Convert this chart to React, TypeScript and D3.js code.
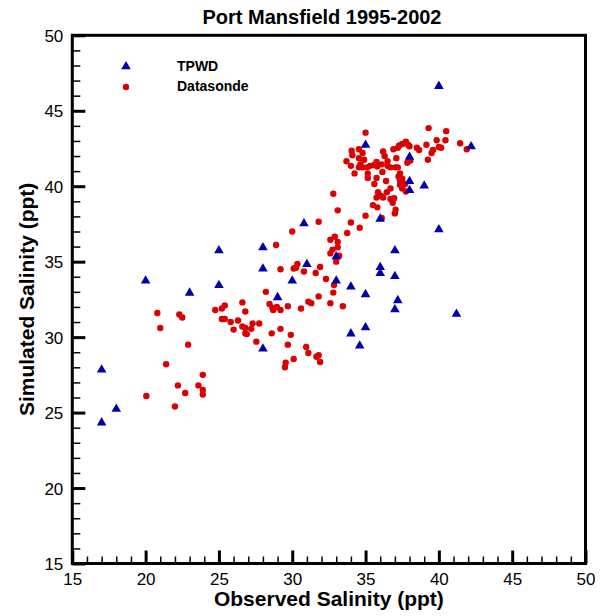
import * as d3 from 'd3'
import {useRef, useEffect} from 'react'

// TPWD observed / simulated pairs (ppt)
const tpwdObserved = [17, 17, 18, 20, 23, 25, 25, 28, 28, 28, 29, 30, 30.8, 31, 33, 33, 34, 34, 34.6, 35, 35, 35, 36, 36, 36, 37, 37, 37.2, 37, 38, 38, 38, 39, 40, 40, 41.2, 42.2]
const tpwdSimulated = [27.9, 24.4, 25.3, 33.8, 33.0, 35.8, 33.5, 36.0, 34.6, 29.3, 32.7, 33.8, 37.6, 34.9, 35.4, 33.8, 33.4, 30.3, 29.5, 32.9, 30.7, 42.8, 37.9, 34.7, 34.3, 35.8, 34.1, 32.5, 31.9, 42.0, 40.4, 39.8, 40.1, 46.7, 37.2, 31.6, 42.7]

// Datasonde observed / simulated pairs (ppt)
const sondeObserved = [
  20.8, 22.3, 22.5, 21.0, 24.75, 25.2, 25.4, 26.6, 26.8, 25.2, 25.4, 25.8, 26.3, 26.0, 26.6, 26.8, 26.8, 26.9, 22.9, 21.4,
  23.9, 22.2, 23.6, 23.9, 22.7, 23.9, 20.05, 22.0,
  32.8, 33.1, 31.8, 30.0, 34.0, 34.6, 35.0, 33.75, 32.6, 32.9, 33.1, 33.1, 32.75, 32.6, 33.2, 33.0, 28.9, 29.2, 30.1, 30.25,
  30.35, 30.8, 31.9, 31.6, 32.3, 32.85, 32.8, 31.8, 32.6, 33.45, 31.1, 31.3, 30.6, 29.7, 28.2, 28.45, 28.7, 28.65, 28.95, 29.2,
  27.3, 27.75, 27.2, 28.6, 29.2, 29.9, 27.55, 29.7, 30.1, 30.95, 31.1, 31.65, 31.8, 31.9, 29.55, 29.5,
  35.0, 39.3, 40.5, 40.45, 39.85, 41.45, 41.9, 40.0, 40.15, 39.6, 39.5, 39.15, 38.5, 38.65, 39.25, 37.9, 38.0, 37.75, 37.5, 37.3,
  37.2, 36.9, 36.2, 36.3, 34.05, 34.1, 34.55, 34.8, 33.7, 34.0, 34.55, 34.9, 34.65, 34.8, 34.55, 35.1, 35.3, 35.55, 35.75, 35.8,
  36.1, 36.5, 36.5, 36.7, 37.1, 37.05, 37.2, 34.25, 35.15, 35.15, 36.15, 35.75, 36.4, 35.6, 36.7, 37.35, 37.25, 37.35, 37.5, 37.5,
  37.35, 37.7, 37.5, 37.85, 38.05, 35.85, 36.05, 36.2, 35.75, 36.45, 36.7, 36.95, 36.85, 37.75, 37.05, 37.0, 35.5, 35.8, 36.1
]
const sondeSimulated = [
  31.6, 31.5, 31.3, 30.6, 31.8, 31.9, 32.1, 32.3, 31.7, 31.2, 31.2, 31.0, 31.1, 30.5, 30.7, 30.6, 30.25, 30.2, 29.5, 28.2,
  27.5, 26.8, 26.8, 26.5, 26.3, 26.2, 26.1, 25.4,
  39.5, 38.4, 37.65, 37.0, 37.6, 37.25, 38.05, 36.9, 36.45, 36.65, 36.3, 35.95, 35.8, 35.55, 35.4, 35.0, 36.1, 34.5, 34.55, 34.6,
  34.85, 34.35, 34.65, 34.25, 33.85, 33.45, 32.95, 32.7, 32.25, 32.05, 32.35, 32.25, 31.9, 32.05, 33.0, 32.2, 31.8, 31.95, 32.0, 31.8,
  30.9, 30.9, 30.55, 30.25, 30.55, 30.15, 29.7, 29.5, 28.55, 29.35, 28.95, 28.7, 28.8, 28.35, 28.3, 28.0,
  43.55, 43.85, 43.65, 43.05, 43.05, 42.85, 42.45, 42.6, 42.55, 42.4, 42.2, 42.75, 42.55, 42.4, 41.75, 42.75, 42.65, 42.95, 42.8, 42.7,
  42.55, 42.45, 42.3, 42.0, 42.35, 42.05, 42.45, 42.2, 41.65, 41.35, 41.85, 41.75, 41.45, 41.25, 41.25, 41.25, 41.35, 41.4, 41.6, 41.3,
  41.45, 41.65, 41.35, 41.25, 41.85, 41.25, 41.25, 40.85, 40.85, 40.55, 40.95, 40.55, 40.35, 40.15, 39.85, 40.85, 40.65, 40.4, 40.5, 40.2,
  40.1, 40.15, 39.85, 41.55, 41.7, 39.6, 39.35, 39.25, 39.25, 39.6, 39.15, 39.2, 38.9, 39.65, 38.45, 38.2, 38.75, 38.6, 37.9
]

const majorTicks = [15, 20, 25, 30, 35, 40, 45, 50]
const minorTicks = d3.range(15, 51, 1)

const title = 'Port Mansfield 1995-2002'
const xTitle = 'Observed Salinity (ppt)'
const yTitle = 'Simulated Salinity (ppt)'
const seriesNames = ['TPWD', 'Datasonde']

const blue = '#0000aa'
const red = '#dd0000'
const font = 'Liberation Sans, Arial, Helvetica, sans-serif'

export default function App() {
  const svgRef = useRef(null)
  const svgWidth = 600
  const svgHeight = 616
  const left = 72.3, right = 585.5, top = 35.3, bottom = 563.5

  useEffect(() => {
    const SVG = d3.select(svgRef.current)
    SVG.selectAll('*').remove()

    const xScale = d3.scaleLinear().domain([15, 50]).range([left, right])
    const yScale = d3.scaleLinear().domain([15, 50]).range([bottom, top])

    // minor ticks
    SVG.append('g').attr('transform', `translate(0,${bottom})`)
      .call(d3.axisBottom(xScale).tickValues(minorTicks).tickSize(-7).tickFormat(() => ''))
      .call(g => g.select('.domain').remove())
      .call(g => g.selectAll('line').attr('stroke-width', 1.5))
    SVG.append('g').attr('transform', `translate(${left},0)`)
      .call(d3.axisLeft(yScale).tickValues(minorTicks).tickSize(-8).tickFormat(() => ''))
      .call(g => g.select('.domain').remove())
      .call(g => g.selectAll('line').attr('stroke-width', 1.5))

    // major ticks + labels
    SVG.append('g').attr('transform', `translate(0,${bottom})`)
      .call(d3.axisBottom(xScale).tickValues(majorTicks).tickSize(-13).tickPadding(0).tickFormat(d3.format('d')))
      .call(g => g.select('.domain').remove())
      .call(g => g.selectAll('line').attr('stroke-width', 3))
      .call(g => g.selectAll('text').attr('y', 21).attr('dy', 0).attr('font-size', 17).attr('font-family', font))
    SVG.append('g').attr('transform', `translate(${left},0)`)
      .call(d3.axisLeft(yScale).tickValues(majorTicks).tickSize(-13).tickPadding(0).tickFormat(d3.format('d')))
      .call(g => g.select('.domain').remove())
      .call(g => g.selectAll('line').attr('stroke-width', 3))
      .call(g => g.selectAll('text').attr('x', -9).attr('dy', '0.36em').attr('font-size', 17).attr('font-family', font))

    // frame
    SVG.append('rect')
      .attr('x', left).attr('y', top)
      .attr('width', right - left).attr('height', bottom - top)
      .attr('fill', 'none').attr('stroke', 'black').attr('stroke-width', 3)

    const tri = d3.symbol().type(d3.symbolTriangle).size(40)

    SVG.append('g').selectAll('circle')
      .data(sondeObserved)
      .enter()
      .append('circle')
      .attr('cx', d => xScale(d))
      .attr('cy', (d, i) => yScale(sondeSimulated[i]))
      .attr('r', 3.2)
      .attr('fill', red)

    SVG.append('g').selectAll('path')
      .data(tpwdObserved)
      .enter()
      .append('path')
      .attr('d', tri)
      .attr('transform', (d, i) => `translate(${xScale(d)},${yScale(tpwdSimulated[i]) + 1})`)
      .attr('fill', blue)

    // legend
    const lg = SVG.append('g').attr('font-family', font).attr('font-weight', 'bold').attr('font-size', 14)
    lg.append('path').attr('d', tri).attr('transform', 'translate(126,66.5)').attr('fill', blue)
    lg.append('circle').attr('cx', 126).attr('cy', 87).attr('r', 3.2).attr('fill', red)
    lg.append('text').attr('x', 177).attr('y', 70.5).text(seriesNames[0])
    lg.append('text').attr('x', 177).attr('y', 91).text(seriesNames[1])

    // titles
    SVG.append('text')
      .attr('x', 322).attr('y', 24)
      .attr('text-anchor', 'middle')
      .attr('font-family', font).attr('font-weight', 'bold').attr('font-size', 20)
      .text(title)
    SVG.append('text')
      .attr('x', (left + right) / 2).attr('y', 606)
      .attr('text-anchor', 'middle')
      .attr('font-family', font).attr('font-weight', 'bold').attr('font-size', 21)
      .text(xTitle)
    SVG.append('text')
      .attr('transform', `translate(34,${(top + bottom) / 2}) rotate(-90)`)
      .attr('text-anchor', 'middle')
      .attr('font-family', font).attr('font-weight', 'bold').attr('font-size', 21)
      .text(yTitle)
  }, [])

  return <svg ref={svgRef} width={svgWidth} height={svgHeight}
    style={{position: 'absolute', left: 0, top: 0, background: 'white'}}></svg>
}
